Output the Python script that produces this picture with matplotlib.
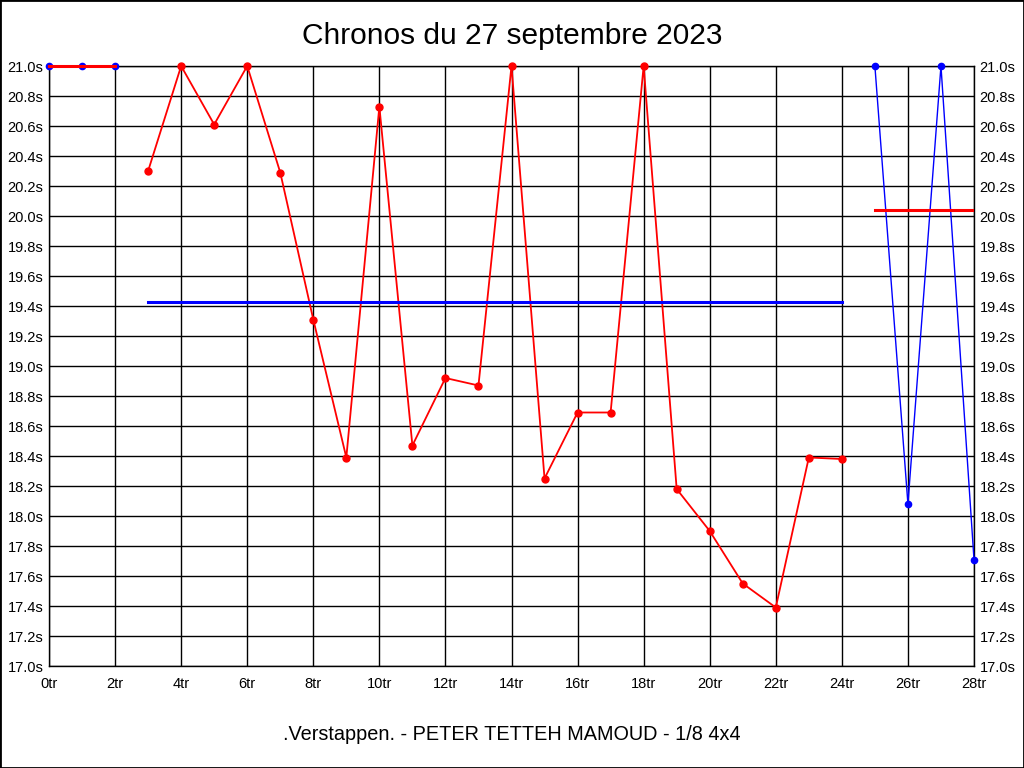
import matplotlib
matplotlib.use("Agg")
import matplotlib.pyplot as plt
from matplotlib.patches import Rectangle

plt.rcParams['font.family'] = ['Liberation Sans', 'DejaVu Sans']

title = "Chronos du 27 septembre 2023"
subtitle = ".Verstappen. - PETER TETTEH MAMOUD - 1/8 4x4"

# Red driver segment (laps 3..24)
red_laps = [3, 4, 5, 6, 7, 8, 9, 10, 11, 12, 13, 14, 15, 16, 17, 18, 19, 20, 21, 22, 23, 24]
red_times = [20.30, 21.0, 20.61, 21.0, 20.29, 19.31, 18.39, 20.73, 18.47, 18.92, 18.87, 21.0,
             18.25, 18.69, 18.69, 21.0, 18.18, 17.90, 17.55, 17.39, 18.39, 18.38]

# Blue driver segments (laps 0..2 and 25..28)
blue1_laps = [0, 1, 2]
blue1_times = [21.0, 21.0, 21.0]
blue2_laps = [25, 26, 27, 28]
blue2_times = [21.0, 18.08, 21.0, 17.71]

# Mean lines
blue1_mean = 21.0
red_mean = 19.43
blue2_mean = 20.04

yticks = [17.0 + 0.2 * i for i in range(21)]
xticks = list(range(0, 29, 2))

fig = plt.figure(figsize=(10.24, 7.68), dpi=100)
fig.patches.append(Rectangle((0, 0), 1, 1, transform=fig.transFigure, fill=False,
                             edgecolor='black', linewidth=2, zorder=10))
ax = fig.add_axes([49 / 1024, 1 - 666 / 768, 925 / 1024, 600 / 768])

ax.set_xlim(0, 28)
ax.set_ylim(17.0, 21.0)
ax.set_xticks(xticks)
ax.set_xticklabels([f"{x}tr" for x in xticks])
ax.set_yticks(yticks)
ax.set_yticklabels([f"{y:.1f}s" for y in yticks])
ax.grid(True, color='black', linewidth=1.0)
ax.set_axisbelow(True)
for s in ax.spines.values():
    s.set_linewidth(1.0)
ax.tick_params(axis='both', length=0, labelsize=10.5, colors='black')
ax.tick_params(axis='y', labelright=True, pad=4)
ax.tick_params(axis='x', pad=8)

ax.plot(red_laps, red_times, color='red', linewidth=1.3, marker='o', markersize=5, zorder=3, clip_on=False)
ax.plot(blue1_laps, blue1_times, color='blue', linewidth=1.0, marker='o', markersize=4.5, zorder=3, clip_on=False)
ax.plot(blue2_laps, blue2_times, color='blue', linewidth=1.0, marker='o', markersize=4.5, zorder=3, clip_on=False)

ax.plot([blue1_laps[0], blue1_laps[-1]], [blue1_mean, blue1_mean], color='red', linewidth=2.2, zorder=4, clip_on=False)
ax.plot([red_laps[0], red_laps[-1]], [red_mean, red_mean], color='blue', linewidth=2.2, zorder=4)
ax.plot([blue2_laps[0], blue2_laps[-1]], [blue2_mean, blue2_mean], color='red', linewidth=2.2, zorder=4)

fig.text(512 / 1024, 1 - 36 / 768, title, ha='center', va='center', fontsize=21.5)
fig.text(512 / 1024, 1 - 735 / 768, subtitle, ha='center', va='center', fontsize=14.3)

fig.savefig("out.png", dpi=100)
